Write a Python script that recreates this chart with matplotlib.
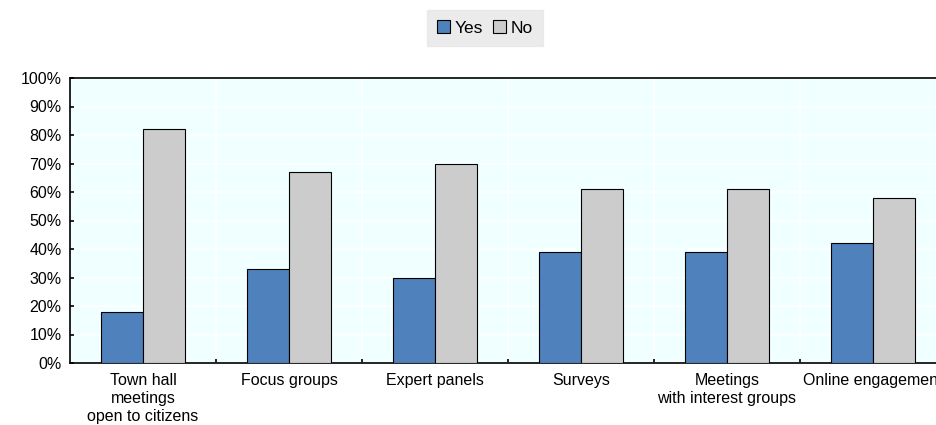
import numpy as np
import matplotlib.pyplot as plt

plt.rcParams['font.family'] = ['Liberation Sans', 'DejaVu Sans']

categories = ['Town hall\nmeetings\nopen to citizens', 'Focus groups', 'Expert panels',
              'Surveys', 'Meetings\nwith interest groups', 'Online engagement']
yes_vals = [18, 33, 30, 39, 39, 42]
no_vals = [82, 67, 70, 61, 61, 58]

fig = plt.figure(figsize=(9.37, 4.25), dpi=100)
# axes runs a little past the right edge, as in the original
ax = fig.add_axes([70/937, 62/425, 876/937, 285/425])
ax.set_facecolor('#F0FFFF')

x = np.arange(len(categories))
w = 0.287
ax.bar(x - w/2, yes_vals, w, color='#4F81BD', edgecolor='black', linewidth=0.8, label='Yes', zorder=3)
ax.bar(x + w/2, no_vals, w, color='#CCCCCC', edgecolor='black', linewidth=0.8, label='No', zorder=3)

ax.set_xlim(-0.5, len(categories) - 0.5)
ax.set_ylim(0, 100)
ax.set_yticks(np.arange(0, 101, 10))
ax.set_yticklabels([f'{v}%' for v in range(0, 101, 10)], fontsize=11.5)
ax.set_xticks(x)
ax.set_xticklabels(categories, fontsize=11.5, linespacing=1.25)
ax.tick_params(axis='x', length=0, pad=7)
ax.set_xticks(np.arange(0.5, len(categories) - 0.5), minor=True)
ax.tick_params(axis='x', which='minor', direction='in', length=3, width=1.2)
ax.tick_params(axis='y', direction='in', length=3, width=1.2, pad=6)
ax.grid(axis='y', color='white', linewidth=1.2, zorder=0)
ax.grid(axis='x', which='minor', color='white', linewidth=1.2, zorder=0)
ax.set_axisbelow(True)
for s in ['left', 'bottom', 'top']:
    ax.spines[s].set_linewidth(1.2)
ax.spines['right'].set_visible(False)

leg = fig.legend(loc='upper center', bbox_to_anchor=(485/937, 1 - 10/425), ncol=2,
                 fontsize=12.5, frameon=True, fancybox=False, handlelength=0.75,
                 handleheight=0.75, handletextpad=0.25, columnspacing=0.6,
                 borderpad=0.6, borderaxespad=0)
leg.get_frame().set_facecolor('#E6E6E6')
leg.get_frame().set_edgecolor('#E6E6E6')

fig.savefig('out.png', dpi=100)
